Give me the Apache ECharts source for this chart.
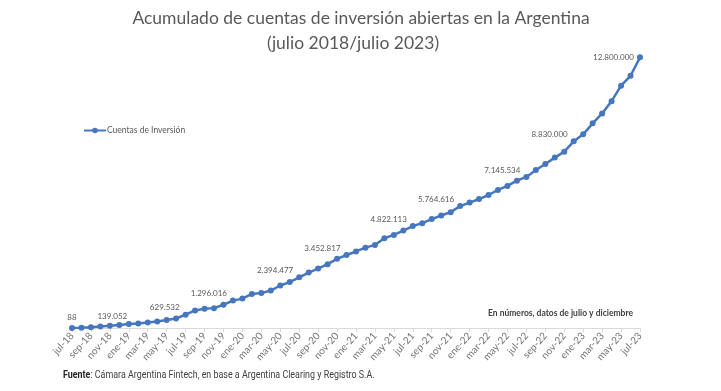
<!DOCTYPE html>
<html>
<head>
<meta charset="utf-8">
<script src="https://cdn.jsdelivr.net/npm/echarts@6/dist/echarts.min.js"></script>
<style>
html,body{margin:0;padding:0;background:#fff;}
#chart{width:721px;height:391px;}
</style>
</head>
<body>
<div id="chart"></div>
<script>
const categories = [
  'jul-18','ago-18','sep-18','oct-18','nov-18','dic-18',
  'ene-19','feb-19','mar-19','abr-19','may-19','jun-19','jul-19','ago-19','sep-19','oct-19','nov-19','dic-19',
  'ene-20','feb-20','mar-20','abr-20','may-20','jun-20','jul-20','ago-20','sep-20','oct-20','nov-20','dic-20',
  'ene-21','feb-21','mar-21','abr-21','may-21','jun-21','jul-21','ago-21','sep-21','oct-21','nov-21','dic-21',
  'ene-22','feb-22','mar-22','abr-22','may-22','jun-22','jul-22','ago-22','sep-22','oct-22','nov-22','dic-22',
  'ene-23','feb-23','mar-23','abr-23','may-23','jun-23','jul-23'
];
const cuentas = [
  88, 10000, 30000, 75000, 105000, 139052,
  185000, 215000, 262000, 310000, 375000, 450000, 629532, 830000, 910000, 940000, 1100000, 1296016,
  1390000, 1610000, 1650000, 1770000, 2010000, 2170000, 2394477, 2620000, 2810000, 3020000, 3270000, 3452817,
  3620000, 3800000, 3930000, 4250000, 4400000, 4610000, 4822113, 4960000, 5150000, 5320000, 5480000, 5764616,
  5930000, 6100000, 6290000, 6530000, 6720000, 6970000, 7145534, 7470000, 7760000, 8060000, 8340000, 8830000,
  9160000, 9680000, 10150000, 10730000, 11460000, 11930000, 12800000
];
const labeledMonths = ['jul-18','dic-18','jul-19','dic-19','jul-20','dic-20','jul-21','dic-21','jul-22','dic-22','jul-23'];
const seriesName = 'Cuentas de Inversión';
const titleLines = ['Acumulado de cuentas de inversión abiertas en la Argentina', '(julio 2018/julio 2023)'];
const noteText = 'En números, datos de julio y diciembre';
const sourceBold = 'Fuente';
const sourceText = ': Cámara Argentina Fintech, en base a Argentina Clearing y Registro S.A.';

function fmt(v){ return String(v).replace(/\B(?=(\d{3})+(?!\d))/g, '.'); }

const lastIdx = categories.length - 1;
const seriesData = cuentas.map((v, i) => {
  const show = labeledMonths.indexOf(categories[i]) >= 0;
  if (!show) return v;
  let label;
  if (i === 0) label = {show: true, position: 'top', distance: 4};
  else if (i === 5) label = {show: true, position: 'top', distance: 3, offset: [-7, 1]};
  else if (i === lastIdx) label = {show: true, position: 'left', distance: 3, offset: [0, 0]};
  else label = {show: true, position: 'left', distance: 3, offset: [0, -7]};
  return {value: v, label: label};
});

const chart = echarts.init(document.getElementById('chart'), null, {renderer: 'canvas'});
const FONT = 'Lato, "Open Sans", sans-serif';
const LINE = '#4677BE';
chart.setOption({
  animation: false,
  backgroundColor: '#ffffff',
  grid: {left: 72, right: 81, top: 32, bottom: 63, containLabel: false, outerBoundsMode: 'none'},
  legend: {
    left: 78, top: 121,
    itemWidth: 22, itemHeight: 7, itemGap: 4,
    textStyle: {fontFamily: FONT, fontSize: 8.5, color: '#595959', padding: [0,0,0,-4]},
    data: [seriesName]
  },
  xAxis: {
    type: 'category',
    data: categories,
    boundaryGap: false,
    axisLine: {lineStyle: {color: '#d9d9d9', width: 1}},
    axisTick: {show: true, interval: 1, length: 4, lineStyle: {color: '#d9d9d9'}},
    axisLabel: {interval: 1, rotate: 48, fontFamily: FONT, fontSize: 10, color: '#737373', margin: 6}
  },
  yAxis: {
    type: 'value', min: 0, max: 14000000, show: false,
    splitLine: {show: false}
  },
  series: [{
    name: seriesName,
    type: 'line',
    data: seriesData,
    color: LINE,
    lineStyle: {width: 2.5, color: LINE},
    symbol: 'circle', symbolSize: 6,
    itemStyle: {color: LINE},
    label: {
      show: false,
      fontFamily: FONT, fontSize: 8, color: '#595959',
      formatter: p => fmt(p.value)
    },
    emphasis: {disabled: true}
  }],
  graphic: [
    {type: 'text', x: 361, y: 18, style: {text: titleLines[0], font: '17.5px ' + FONT, fill: '#595959', align: 'center', verticalAlign: 'middle'}},
    {type: 'text', x: 353, y: 43, style: {text: titleLines[1], font: '17.5px ' + FONT, fill: '#595959', align: 'center', verticalAlign: 'middle'}},
    {type: 'text', x: 488, y: 313, style: {text: noteText, font: 'bold 8.5px ' + FONT, fill: '#404040', align: 'left', verticalAlign: 'middle'}},
    {type: 'text', x: 63, y: 375, scaleX: 0.81, originX: 0,
      style: {
        text: '{b|' + sourceBold + '}{r|' + sourceText + '}',
        align: 'left', verticalAlign: 'middle',
        rich: {
          b: {fontFamily: 'Roboto, sans-serif', fontWeight: 'bold', fontSize: 11, fill: '#262626'},
          r: {fontFamily: 'Roboto, sans-serif', fontSize: 11, fill: '#404040'}
        }
      }}
  ]
});
</script>
</body>
</html>
